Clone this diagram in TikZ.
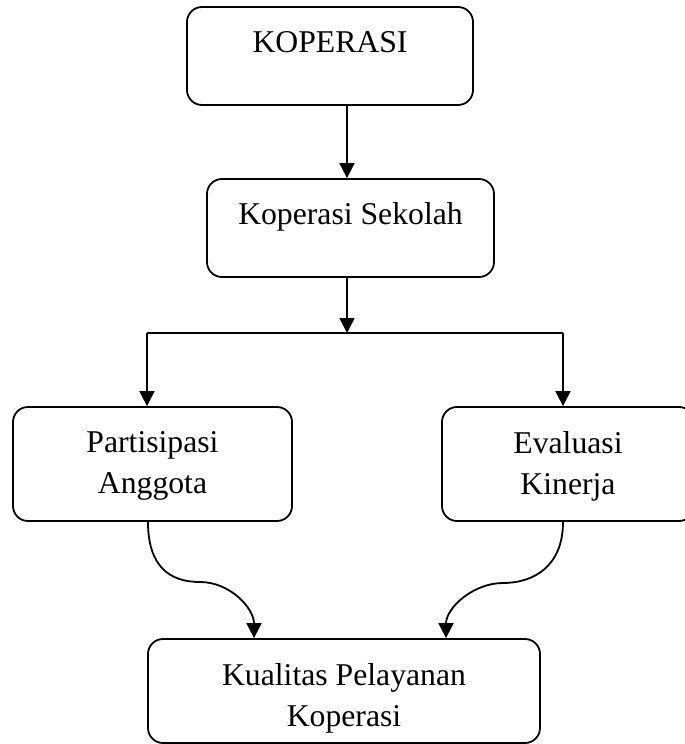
\documentclass[tikz,border=0pt]{standalone}
\usepackage{fontspec}
\setmainfont{Liberation Serif}
\usetikzlibrary{arrows.meta}
\begin{document}
\begin{tikzpicture}[x=1pt,y=-1pt,
  box/.style={draw,line width=1.8pt,rounded corners=15pt,inner sep=0pt},
  lbl/.style={font=\fontsize{31.7}{41}\selectfont,align=center,inner sep=0pt},
  arr/.style={line width=1.8pt,-{Triangle[length=15pt,width=15pt]}},
  ln/.style={line width=1.8pt}]
\useasboundingbox (0,0) rectangle (685,744);
% boxes
\node[box,minimum width=286pt,minimum height=98pt] (kop) at (330,56) {};
\node[box,minimum width=287pt,minimum height=98pt] (ks) at (350.5,228) {};
\node[box,minimum width=279pt,minimum height=114pt] (part) at (152.5,464) {};
\node[box,minimum width=252pt,minimum height=114pt] (eval) at (568,464) {};
\node[box,minimum width=392pt,minimum height=104pt] (kual) at (344,691) {};
% texts
\node[lbl,anchor=base] (kopt) at (330,52) {KOPERASI};
\node[lbl,anchor=base] (kst) at (350.5,224) {Koperasi Sekolah};
\node[lbl] (partt) at (152.5,466) {Partisipasi\\Anggota};
\node[lbl] (evalt) at (568,466) {Evaluasi\\Kinerja};
\node[lbl] (kualt) at (344,698) {Kualitas Pelayanan\\Koperasi};
% connectors
\coordinate (fork) at (347,333);
\coordinate (forkl) at (147,333);
\coordinate (forkr) at (563,333);
\draw[arr] ([xshift=17pt]kop.south) -- ([xshift=-3.5pt]ks.north);
\draw[arr] ([xshift=-3.5pt]ks.south) -- (fork);
\draw[ln] (forkl) -- (forkr);
\draw[arr] (forkl) -- ([xshift=-5.5pt]part.north);
\draw[arr] (forkr) -- ([xshift=-5pt]eval.north);
\coordinate (lmid) at (200,582);
\coordinate (rmid) at (503,583);
\draw[arr] ([xshift=-4.5pt]part.south) .. controls +(0,45) and +(-30,0) .. (lmid)
  .. controls +(30,0) and +(0,-30) .. ([xshift=-90pt]kual.north);
\draw[arr] ([xshift=-5pt]eval.south) .. controls +(0,45) and +(30,0) .. (rmid)
  .. controls +(-30,0) and +(0,-30) .. ([xshift=102pt]kual.north);
\end{tikzpicture}
\end{document}
